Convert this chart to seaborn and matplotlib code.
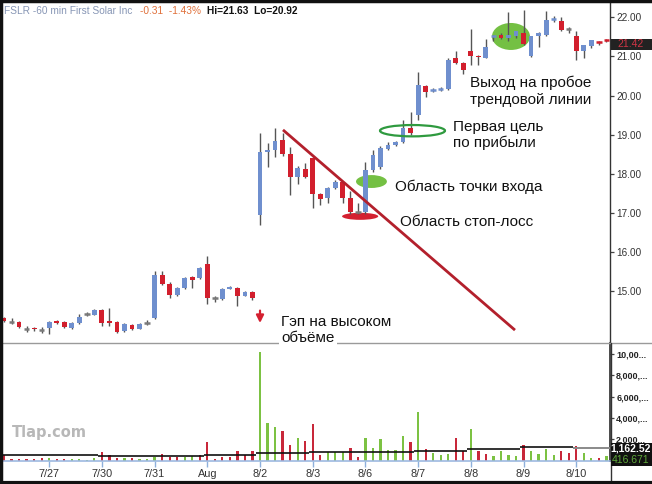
import numpy as np
import pandas as pd
import matplotlib
matplotlib.use("Agg")
import matplotlib.pyplot as plt
import seaborn as sns
from matplotlib.patches import Ellipse, Rectangle
from matplotlib.lines import Line2D
from matplotlib import font_manager as fm

# ---------------- data ----------------
ticker_text = "FSLR -60 min First Solar Inc"
change_text = "-0.31  -1.43%"
hilo_text = "Hi=21.63  Lo=20.92"

opens = [14.30, 14.21, 14.20, 14.03, 14.06, 14.01, 14.06, 14.23, 14.21, 14.06,
         14.18, 14.42, 14.39, 14.52, 14.22, 14.20, 13.98, 14.13, 14.03, 14.18,
         14.31, 15.42, 15.19, 14.90, 15.08, 15.36, 15.32, 15.68, 14.81, 14.80,
         15.06, 15.08, 14.88, 14.98, 16.94, 18.56, 18.60, 18.87, 18.50, 17.91,
         18.12, 18.40, 17.48, 17.37, 17.63, 17.78, 17.37, 17.01, 17.01, 18.09,
         18.17, 18.63, 18.74, 18.81, 19.17, 19.50, 20.25, 20.14, 20.16, 20.17,
         20.95, 20.84, 21.15, 21.02, 20.97, 21.49, 21.56, 21.46, 21.51, 21.61,
         21.00, 21.51, 21.56, 21.94, 21.90, 21.69, 21.51, 21.15, 21.26, 21.38,
         21.43]
closes = [14.24, 14.21, 14.08, 14.03, 14.02, 14.01, 14.21, 14.19, 14.08, 14.18,
          14.34, 14.42, 14.52, 14.18, 14.18, 13.95, 14.16, 14.03, 14.16, 14.18,
          15.42, 15.19, 14.90, 15.08, 15.32, 15.29, 15.60, 14.83, 14.81, 15.06,
          15.10, 14.88, 14.98, 14.83, 18.56, 18.61, 18.84, 18.50, 17.91, 18.14,
          17.91, 17.48, 17.35, 17.63, 17.80, 17.37, 17.01, 17.01, 18.09, 18.48,
          18.66, 18.74, 18.81, 19.17, 19.04, 20.28, 20.10, 20.15, 20.17, 20.92,
          20.82, 20.66, 21.00, 20.98, 21.23, 21.52, 21.47, 21.56, 21.64, 21.33,
          21.51, 21.61, 21.92, 21.95, 21.67, 21.69, 21.13, 21.28, 21.41, 21.36,
          21.42]
highs = [14.33, 14.30, 14.22, 14.10, 14.08, 14.07, 14.24, 14.27, 14.23, 14.20,
         14.40, 14.47, 14.53, 14.54, 14.57, 14.22, 14.18, 14.15, 14.18, 14.26,
         15.52, 15.50, 15.22, 15.10, 15.36, 15.38, 15.62, 15.90, 14.86, 15.08,
         15.12, 15.10, 15.00, 15.00, 19.04, 18.79, 19.17, 19.04, 18.68, 18.20,
         18.27, 18.42, 17.50, 17.65, 17.84, 17.80, 17.57, 17.24, 18.30, 18.60,
         18.70, 18.80, 18.84, 19.38, 19.58, 20.59, 20.28, 20.20, 20.22, 20.95,
         21.13, 20.86, 21.69, 21.04, 21.45, 21.56, 21.60, 22.13, 21.66, 22.18,
         21.53, 21.63, 22.15, 22.03, 22.00, 21.74, 21.64, 21.30, 21.43, 21.40,
         21.44]
lows = [14.20, 14.15, 14.06, 13.96, 13.98, 13.93, 13.90, 14.16, 14.06, 14.04,
        14.16, 14.36, 14.38, 14.10, 14.10, 13.93, 13.94, 14.00, 14.02, 14.14,
        14.29, 15.15, 14.83, 14.88, 15.06, 15.08, 15.30, 14.67, 14.72, 14.78,
        15.04, 14.62, 14.86, 14.76, 16.68, 18.17, 18.43, 18.45, 17.45, 17.73,
        17.88, 17.12, 17.20, 17.24, 17.60, 17.24, 16.98, 16.98, 16.98, 18.05,
        18.12, 18.60, 18.70, 18.78, 19.00, 19.38, 19.97, 20.08, 20.12, 20.15,
        20.80, 20.56, 20.79, 20.79, 20.95, 21.40, 21.44, 21.40, 21.48, 21.30,
        20.98, 21.23, 21.53, 21.88, 21.64, 21.60, 20.92, 20.97, 21.22, 21.30,
        21.36]
volumes = [470, 100, 150, 120, 120, 280, 200, 120, 120, 100,
           120, 80, 200, 840, 560, 250, 200, 200, 150, 120,
           300, 650, 300, 300, 300, 400, 470, 1780, 100, 300,
           300, 930, 560, 930, 10190, 3490, 3180, 2800, 1500, 2150,
           1870, 3400, 500, 800, 800, 800, 1150, 300, 2100, 1200,
           2000, 1000, 1000, 2300, 1700, 4600, 1100, 700, 500, 600,
           2100, 900, 3000, 900, 600, 400, 900, 500, 400, 1500,
           900, 600, 1100, 500, 900, 700, 1400, 700, 200, 200,
           416.671]
vol_dir = list("dddddduddu" "uuuddduduu" "uddduudddd" "dddduuuddu"
               "ddduuudduu" "uuuududuuu" "ddudduuuud" "uuuuddduud" "u")

day_labels = ["7/27", "7/30", "7/31", "Aug", "8/2", "8/3", "8/6", "8/7", "8/8", "8/9", "8/10"]
day_starts = [6, 13, 20, 27, 34, 41, 48, 55, 62, 69, 76]
seg_starts = [0, 6, 13, 20, 27, 34, 41, 48, 55, 62, 69, 76]
seg_avg_volume = [490, 490, 420, 420, 490, 680, 800, 800, 920, 1110, 1240, 1162.52]

price_ticks = [15, 16, 17, 18, 19, 20, 21, 22]
vol_ticks = [2000, 4000, 6000, 8000, 10000]
vol_tick_labels = ["2,000...", "4,000,...", "6,000,...", "8,000,...", "10,00..."]

# annotation geometry (bar index, price)
trend_x = [37.05, 67.86]
trend_y = [19.12, 14.00]

# ---------------- style ----------------
sns.set_theme(style="white")
plt.rcParams["font.family"] = ["Liberation Sans", "DejaVu Sans"]
names = {f.name for f in fm.fontManager.ttflist}
has_narrow = "Liberation Sans Narrow" in names
narrow = "Liberation Sans Narrow" if has_narrow else "Liberation Sans"

W, H = 652, 484
def fx(px):
    return px / W
def fy(py):
    return 1 - py / H

fig = plt.figure(figsize=(W / 100, H / 100), dpi=100)
fig.patch.set_facecolor("white")

ax = fig.add_axes([fx(3), fy(343), fx(610) - fx(3), fy(3) - fy(343)])
axv = fig.add_axes([fx(3), fy(460.5), fx(610) - fx(3), fy(343) - fy(460.5)])

n = len(closes)
idx = np.arange(n)
o = np.array(opens); c = np.array(closes); h = np.array(highs); l = np.array(lows)

BLUE = "#6f8fce"
RED = "#d21f2d"
GREY = "#7a7a7a"
WICK = "#555555"

# wicks
ax.vlines(idx, l, h, color=WICK, lw=1.0, zorder=3)
# bodies
for i in range(n):
    if c[i] > o[i]:
        col = BLUE
    elif c[i] < o[i]:
        col = RED
    else:
        col = GREY
    if abs(c[i] - o[i]) < 0.035:
        ax.hlines(c[i], i - 0.36, i + 0.36, color=col, lw=1.8, zorder=4)
    else:
        ax.bar(i, abs(c[i] - o[i]), bottom=min(o[i], c[i]), width=0.64,
               color=col, linewidth=0, zorder=4)

# annotations on price panel
ax.add_patch(Ellipse((67.33, 21.51), 5.05, 0.69, facecolor="#74c043", edgecolor="none", zorder=2))
ax.add_patch(Ellipse((48.8, 17.80), 4.1, 0.33, facecolor="#74c043", edgecolor="none", zorder=2))
ax.add_patch(Ellipse((47.3, 16.91), 4.8, 0.18, facecolor="#d42030", edgecolor="none", zorder=2))
ax.add_patch(Ellipse((54.25, 19.10), 8.63, 0.29, facecolor="none", edgecolor="#2f9a3f", lw=1.6, zorder=5))
ax.plot(trend_x, trend_y, color="#b3202c", lw=2.0, zorder=6, solid_capstyle="butt")
ax.annotate("", xy=(34, 14.11), xytext=(34, 14.57),
            arrowprops=dict(arrowstyle="-|>", color="#d42030", lw=1.6, mutation_scale=11))

ax.set_xlim(-0.133, 80.48)
ax.set_ylim(13.670, 22.366)
ax.yaxis.tick_right()
ax.set_yticks(price_ticks)
ax.set_yticklabels([f"{v:.2f}" for v in price_ticks])
ax.tick_params(axis="y", right=True, length=3, width=0.9, color="#444", pad=1.5,
               labelsize=7.5 if has_narrow else 7.2, labelcolor="#333")
ax.tick_params(axis="x", bottom=False, labelbottom=False)
for lbl in ax.get_yticklabels():
    lbl.set_fontfamily(narrow)
for s in ["top", "left", "bottom"]:
    ax.spines[s].set_visible(False)
ax.spines["right"].set_color("#333")
ax.spines["right"].set_linewidth(1.0)

# ---------------- volume ----------------
vdf = pd.DataFrame({"bar": idx, "volume": volumes, "dir": vol_dir})
sns.barplot(data=vdf, x="bar", y="volume", hue="dir",
            palette={"u": "#7cc243", "d": "#c8283a"}, native_scale=True,
            width=0.3, dodge=False, legend=False, saturation=1,
            linewidth=0, errorbar=None, ax=axv)
seg_ends = seg_starts[1:] + [n]
axv.hlines(seg_avg_volume[:-1], np.array(seg_starts[:-1]) - 0.5, np.array(seg_ends[:-1]) - 0.5,
           colors="#111111", lw=1.2, zorder=5)
axv.hlines(seg_avg_volume[-1:], np.array(seg_starts[-1:]) - 0.5, np.array(seg_ends[-1:]) - 0.5,
           colors="#8a8a8a", lw=1.4, zorder=5)

axv.set_xlim(-0.133, 80.48)
axv.set_ylim(0, 11033)
axv.set_xlabel("")
axv.set_ylabel("")
axv.yaxis.tick_right()
axv.set_yticks(vol_ticks)
axv.set_yticklabels(vol_tick_labels)
axv.tick_params(axis="y", right=True, length=3, width=0.9, color="#444", pad=1.5,
                labelsize=7 if has_narrow else 6.5, labelcolor="#222")
for lbl in axv.get_yticklabels():
    lbl.set_fontfamily(narrow)
    lbl.set_fontweight("bold")
axv.set_xticks(day_starts)
axv.set_xticklabels(day_labels)
axv.tick_params(axis="x", bottom=True, length=4, width=1, color="#8eb0dc", pad=2,
                labelsize=8 if has_narrow else 7.8, labelcolor="#333")
for lbl in axv.get_xticklabels():
    lbl.set_fontfamily(narrow)
for s in ["top", "left"]:
    axv.spines[s].set_visible(False)
axv.spines["right"].set_color("#333")
axv.spines["bottom"].set_color("#9db9e0")
axv.spines["bottom"].set_linewidth(1.2)

# ---------------- figure-level decorations ----------------
fig.add_artist(Line2D([fx(3), fx(652)], [fy(343), fy(343)], color="#9a9a9a", lw=1.0, zorder=2))
fig.add_artist(Line2D([fx(610.5), fx(610.5)], [fy(343), fy(482)], color="#333", lw=1.0, zorder=2))
# frame
fig.add_artist(Line2D([fx(1), fx(1)], [0, 1], color="#111", lw=2.5))
fig.add_artist(Line2D([0, 1], [fy(1), fy(1)], color="#111", lw=2.5))
fig.add_artist(Line2D([0, 1], [fy(482.5), fy(482.5)], color="#111", lw=3))

# header
hsize = 8.2 if has_narrow else 7.3
fig.text(fx(4), fy(14), ticker_text, color="#8796b5", fontsize=hsize, family=narrow, va="baseline")
fig.text(fx(140), fy(14), change_text, color="#e0703a", fontsize=hsize, family=narrow, va="baseline")
fig.text(fx(207), fy(14), hilo_text, color="#111", fontsize=hsize, family=narrow,
         weight="bold", va="baseline")

# right-axis value boxes
fig.add_artist(Rectangle((fx(611), fy(49.5)), fx(652) - fx(611), 10.5 / H,
                         transform=fig.transFigure, facecolor="#222", edgecolor="none", zorder=6))
fig.text(fx(631), fy(44.3), f"{closes[-1]:.2f}", color="#d03545", fontsize=7.5, family=narrow,
         ha="center", va="center", zorder=7)
fig.add_artist(Rectangle((fx(611), fy(454.5)), fx(652) - fx(611), 11.5 / H,
                         transform=fig.transFigure, facecolor="#111", edgecolor="none", zorder=6))
fig.text(fx(631), fy(448.8), f"{seg_avg_volume[-1]:,.2f}", color="white", fontsize=7.5, family=narrow,
         weight="bold", ha="center", va="center", zorder=7)
fig.add_artist(Rectangle((fx(611), fy(466)), fx(652) - fx(611), 11.5 / H,
                         transform=fig.transFigure, facecolor="#111", edgecolor="none", zorder=6))
fig.text(fx(631), fy(460.3), f"{volumes[-1]:,.3f}", color="#5fa83a", fontsize=7.5, family=narrow,
         ha="center", va="center", zorder=7)

# annotation texts
TS = 11
fig.text(fx(470), fy(87), "Выход на пробое", fontsize=TS, color="#111", va="baseline")
fig.text(fx(470), fy(104), "трендовой линии", fontsize=TS, color="#111", va="baseline")
fig.text(fx(453), fy(131), "Первая цель", fontsize=TS, color="#111", va="baseline")
fig.text(fx(453), fy(147), "по прибыли", fontsize=TS, color="#111", va="baseline")
fig.text(fx(395), fy(191), "Область точки входа", fontsize=TS, color="#111", va="baseline")
fig.text(fx(400), fy(226), "Область стоп-лосс", fontsize=TS, color="#111", va="baseline")
fig.text(fx(281), fy(326), "Гэп на высоком", fontsize=TS, color="#111", va="baseline")
fig.text(fx(281), fy(342), "объёме", fontsize=TS, color="#111", va="baseline",
         bbox=dict(facecolor="white", edgecolor="none", pad=1.5), zorder=8)

fig.text(fx(12), fy(437), "Tlap.com", fontsize=10.5, color="#b8b8b8", weight="bold",
         family="DejaVu Sans", va="baseline")

fig.savefig("out.png", dpi=100, facecolor="white")
